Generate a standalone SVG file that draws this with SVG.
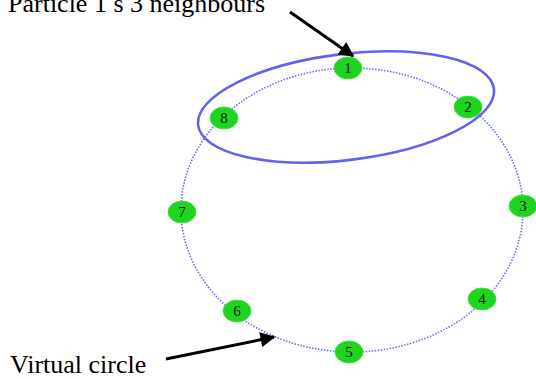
<svg xmlns="http://www.w3.org/2000/svg" width="536" height="379" viewBox="0 0 536 379">
<style>
.lbl{font-family:"Liberation Serif","Times New Roman",serif;fill:#000}
.node ellipse{fill:#1fd41f;stroke:#3be03b;stroke-width:0.8}
.node text{font-family:"Liberation Serif","Times New Roman",serif;font-size:15px;fill:#111;text-anchor:middle}
.arrow{stroke:#000;stroke-width:3;fill:none}
</style>
<defs>
<marker id="ah" viewBox="0 0 10 10" refX="9" refY="5" markerWidth="6.5" markerHeight="5" orient="auto" markerUnits="strokeWidth">
<path d="M0,0 L10,5 L0,10 z" fill="#000"/>
</marker>
</defs>
<rect width="536" height="379" fill="#fff"/>
<g id="connectors">
<ellipse id="virtual-circle" cx="352" cy="210" rx="171" ry="142" fill="none" stroke="#6a6aff" stroke-width="1.6" stroke-dasharray="1.5 1.5"/>
<ellipse id="neighbourhood" cx="346" cy="107" rx="149" ry="53" transform="rotate(-7 346 107)" fill="none" stroke="#6262ee" stroke-width="2.6"/>
<line class="arrow" x1="290" y1="12" x2="353" y2="56" marker-end="url(#ah)"/>
<line class="arrow" x1="166" y1="359" x2="274" y2="337" marker-end="url(#ah)"/>
</g>
<g id="n1" class="node"><ellipse cx="348" cy="68" rx="14" ry="11"/><text x="348" y="73">1</text></g>
<g id="n2" class="node"><ellipse cx="468" cy="107" rx="14" ry="11"/><text x="468" y="112">2</text></g>
<g id="n3" class="node"><ellipse cx="523" cy="206" rx="14" ry="11"/><text x="523" y="211">3</text></g>
<g id="n4" class="node"><ellipse cx="482" cy="299" rx="14" ry="11"/><text x="482" y="304">4</text></g>
<g id="n5" class="node"><ellipse cx="349" cy="352" rx="14" ry="11"/><text x="349" y="357">5</text></g>
<g id="n6" class="node"><ellipse cx="237" cy="311" rx="14" ry="11"/><text x="237" y="316">6</text></g>
<g id="n7" class="node"><ellipse cx="182" cy="212" rx="14" ry="11"/><text x="182" y="217">7</text></g>
<g id="n8" class="node"><ellipse cx="224" cy="118" rx="14" ry="11"/><text x="224" y="123">8</text></g>
<text class="lbl" x="8" y="12" font-size="26">Particle 1 s 3 neighbours</text>
<text class="lbl" x="10" y="373" font-size="26">Virtual circle</text>
</svg>
